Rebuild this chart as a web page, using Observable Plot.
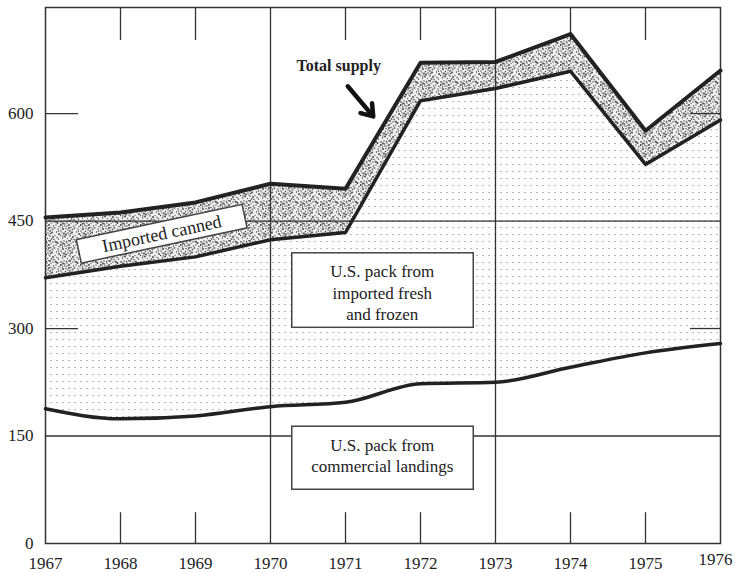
<!DOCTYPE html>
<html><head><meta charset="utf-8">
<script src="https://cdn.jsdelivr.net/npm/d3@7"></script>
<script src="https://cdn.jsdelivr.net/npm/@observablehq/plot@0.6"></script>
<style>body{margin:0;background:#fff} svg{display:block}</style>
</head><body><div id="chart"></div>
<script>
// Years on the x axis
const years = [1967, 1968, 1969, 1970, 1971, 1972, 1973, 1974, 1975, 1976];
// U.S. pack from commercial landings (bottom line)
const landings = [188, 174, 178, 191, 197, 223, 225, 246, 266, 279];
// U.S. pack total (landings + imported fresh and frozen)
const usPack = [371, 387, 400, 424, 434, 618, 635, 659, 529, 591];
// Total supply (U.S. pack + imported canned)
const totalSupply = [455, 462, 476, 502, 495, 671, 672, 711, 576, 660];
// Axis tick values
const yTicks = [0, 150, 300, 450, 600];
const fullYears = [1970, 1973];
const shortYears = [1968, 1969, 1971, 1972, 1974, 1975];
const fullLevels = [150, 450];
const shortLevels = [300, 600];

// Annotation labels
const boxFresh = [{x1: 1970.29, x2: 1972.71, y1: 301, y2: 405}];
const labelFresh = [{x: 1971.49, y: 351, text: "U.S. pack from\nimported fresh\nand frozen"}];
const boxLand = [{x1: 1970.29, x2: 1972.71, y1: 75, y2: 163}];
const labelLand = [{x: 1971.49, y: 124, text: "U.S. pack from\ncommercial landings"}];
const labelCanned = [{x: 1968.55, y: 432, text: "Imported canned"}];
const labelTotal = [{x: 1970.91, y: 667, text: "Total supply"}];
const arrowTotal = [{x1: 1971.03, y1: 638, x2: 1971.37, y2: 596}];

const data = years.map((year, i) => ({year, landings: landings[i], pack: usPack[i], total: totalSupply[i]}));
const YMAX = 748;

const chart = Plot.plot({
  width: 735, height: 573,
  marginLeft: 45, marginRight: 15, marginTop: 7, marginBottom: 30,
  style: {fontFamily: "'Liberation Serif', 'Times New Roman', serif", fontSize: "17px", color: "#222", background: "#fff"},
  x: {domain: [1967, 1976], ticks: years, tickFormat: d => String(d), tickSize: 0, tickPadding: 13, label: null},
  y: {domain: [0, YMAX], ticks: yTicks, tickSize: 0, tickPadding: 12, label: null},
  marks: [
    Plot.areaY(data, {x: "year", y1: 0, y2: "pack", fill: "url(#gridDots)"}),
    Plot.areaY(data, {x: "year", y1: 0, y2: "landings", fill: "#fff", curve: "monotone-x"}),
    Plot.areaY(data, {x: "year", y1: "pack", y2: "total", fill: "url(#stipple)"}),
    Plot.ruleY(fullLevels, {stroke: "#333", strokeWidth: 1.3}),
    Plot.ruleY(shortLevels, {x1: 1967, x2: 1967.44, stroke: "#333", strokeWidth: 1.3}),
    Plot.ruleY(shortLevels, {x1: 1975.6, x2: 1976, stroke: "#333", strokeWidth: 1.3}),
    Plot.ruleX(fullYears, {y1: 0, y2: YMAX, stroke: "#333", strokeWidth: 1.3}),
    Plot.ruleX(shortYears, {y1: 702, y2: YMAX, stroke: "#333", strokeWidth: 1.3}),
    Plot.ruleX(shortYears, {y1: 0, y2: 43, stroke: "#333", strokeWidth: 1.3}),
    Plot.frame({stroke: "#333", strokeWidth: 1.5}),
    Plot.line(data, {x: "year", y: "landings", curve: "monotone-x", stroke: "#222", strokeWidth: 3.5}),
    Plot.line(data, {x: "year", y: "pack", stroke: "#222", strokeWidth: 3.5}),
    Plot.line(data, {x: "year", y: "total", stroke: "#222", strokeWidth: 4}),
    Plot.rect(boxFresh, {x1: "x1", x2: "x2", y1: "y1", y2: "y2", fill: "#fff", stroke: "#444", strokeWidth: 1.5}),
    Plot.text(labelFresh, {x: "x", y: "y", text: "text", fontSize: 17, lineHeight: 1.27, fill: "#222"}),
    Plot.rect(boxLand, {x1: "x1", x2: "x2", y1: "y1", y2: "y2", fill: "#fff", stroke: "#444", strokeWidth: 1.5}),
    Plot.text(labelLand, {x: "x", y: "y", text: "text", fontSize: 17, lineHeight: 1.27, fill: "#222"}),
    Plot.text(labelCanned, {x: "x", y: "y", text: "text", fontSize: 18, rotate: -12, fill: "#222", className: "canned"}),
    Plot.text(labelTotal, {x: "x", y: "y", text: "text", fontSize: 16, fontWeight: "bold", fill: "#222"}),
    Plot.arrow(arrowTotal, {x1: "x1", y1: "y1", x2: "x2", y2: "y2", stroke: "#111", strokeWidth: 4.5, headLength: 12, headAngle: 70})
  ]
});
document.getElementById("chart").append(chart);

const svg = d3.select(chart);
const defs = svg.insert("defs", ":first-child");
const gp = defs.append("pattern").attr("id", "gridDots").attr("patternUnits", "userSpaceOnUse").attr("width", 6).attr("height", 7);
gp.append("rect").attr("width", 6).attr("height", 7).attr("fill", "#fff");
gp.append("rect").attr("x", 2.5).attr("y", 3).attr("width", 1.1).attr("height", 1.1).attr("fill", "#808080");

// stipple texture tile (fixed dot positions, 20x20 tile)
const stippleDots = [[1,2],[4,1],[7,3],[10,1],[2,5],[5,6],[9,5],[11,7.5],[0,8],[3,9],[6,8.5],[8,10],[10,11],[1,11],[7,6],[3,3.5],[11,3.5],[5.5,11.5],[9,8],[4.5,4],[8.5,0.5],[0.5,5],[6.5,1.5],[2.5,7],[12.5,9.5],[13,2],[13.5,6],[12,12.5],[2,13],[8,13],[4,13.5],[10.5,13.5],[15,1],[17.5,3],[19,6.5],[16,5],[14.5,8],[18,9],[16.5,12],[19,14],[15,15.5],[17,17.5],[13,17],[10,16],[7.5,18.5],[5,16.5],[2.5,18],[0.5,15.5],[11.5,19],[14,19.5],[18.5,19],[6,14.5],[9,15],[3,16],[16,2],[18.5,11]];
const sp = defs.append("pattern").attr("id", "stipple").attr("patternUnits", "userSpaceOnUse").attr("width", 20).attr("height", 20);
sp.append("rect").attr("width", 20).attr("height", 20).attr("fill", "#efefef");
stippleDots.forEach(([a, b], i) => sp.append("circle").attr("cx", a).attr("cy", b).attr("r", i % 3 === 0 ? 0.9 : 0.65).attr("fill", i % 4 === 0 ? "#666" : "#3a3a3a"));

svg.selectAll("g.canned text").each(function() {
  const b = this.getBBox();
  d3.select(this.parentNode).insert("rect", () => this)
    .attr("x", b.x - 24).attr("y", b.y - 2).attr("width", b.width + 48).attr("height", b.height + 4)
    .attr("fill", "#fff").attr("stroke", "#444").attr("stroke-width", 1.5)
    .attr("transform", this.getAttribute("transform"));
});

// nudge the last x tick label inside the picture, as in the reference
svg.selectAll('g[aria-label="x-axis tick label"] text').each(function() {
  if (this.textContent === "1976") {
    d3.select(this).attr("text-anchor", "end").attr("dx", 12).attr("dy", "-0.2em");
  }
});
</script></body></html>
